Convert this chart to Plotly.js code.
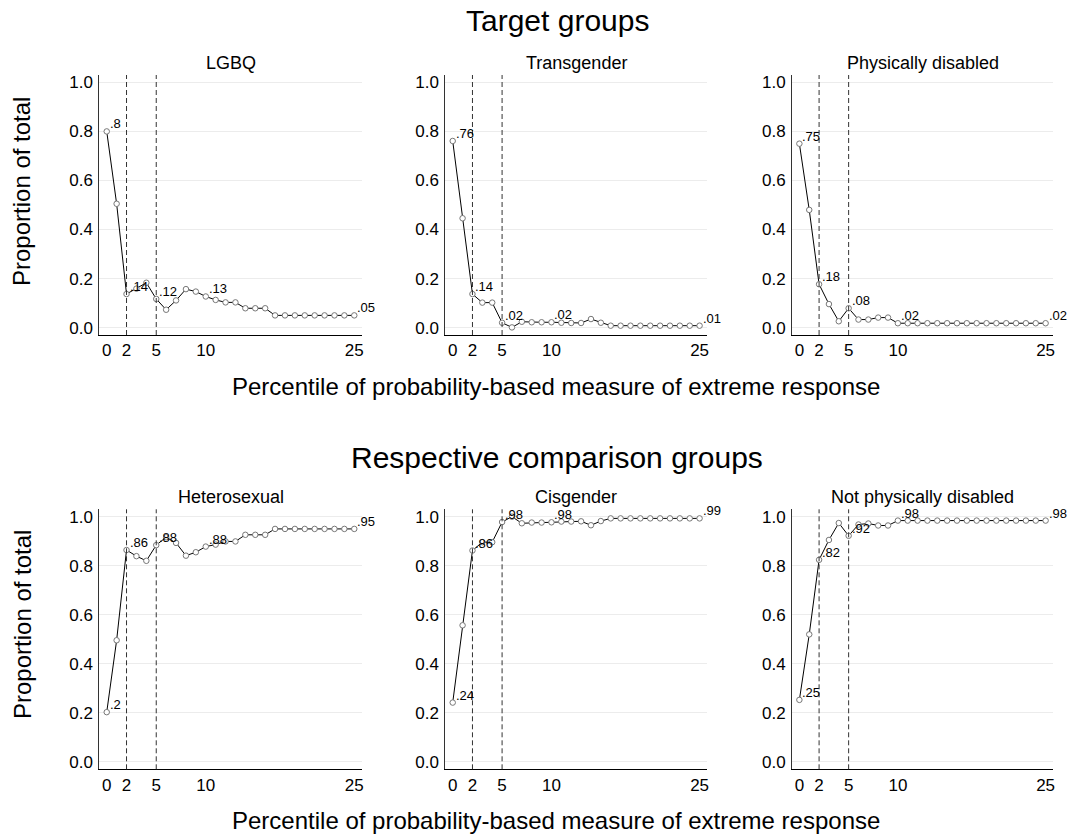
<!DOCTYPE html>
<html>
<head>
<meta charset="utf-8">
<script src="https://cdn.plot.ly/plotly-3.0.1.min.js"></script>
<style>html,body{margin:0;padding:0;background:#fff;}#chart{width:1069px;height:836px;}</style>
</head>
<body>
<div id="chart"></div>
<script>
// ---- data ----
const percentiles = [0,1,2,3,4,5,6,7,8,9,10,11,12,13,14,15,16,17,18,19,20,21,22,23,24,25];
const tickValues = [0,2,5,10,25];
const labeledPercentiles = [0,2,5,10,25];
const cutoffs = [2,5];
const panelTitles = ["LGBQ","Transgender","Physically disabled","Heterosexual","Cisgender","Not physically disabled"];
const rowTitles = ["Target groups","Respective comparison groups"];
const xAxisTitle = "Percentile of probability-based measure of extreme response";
const yAxisTitle = "Proportion of total";

const lgbq = [0.80,0.505,0.137,0.159,0.183,0.117,0.073,0.111,0.157,0.147,0.127,0.113,0.103,0.103,0.079,0.079,0.079,0.05,0.05,0.05,0.05,0.05,0.05,0.05,0.05,0.05];
const transgender = [0.761,0.446,0.137,0.102,0.102,0.02,0.001,0.024,0.022,0.022,0.022,0.02,0.019,0.019,0.035,0.02,0.008,0.008,0.008,0.008,0.008,0.008,0.008,0.008,0.008,0.008];
const physDisabled = [0.75,0.48,0.177,0.096,0.026,0.079,0.033,0.033,0.041,0.041,0.018,0.018,0.018,0.018,0.018,0.018,0.018,0.018,0.018,0.018,0.018,0.018,0.018,0.018,0.018,0.018];
const heterosexual = [0.203,0.496,0.864,0.839,0.82,0.884,0.916,0.893,0.841,0.855,0.878,0.886,0.899,0.899,0.926,0.926,0.926,0.95,0.95,0.95,0.95,0.95,0.95,0.95,0.95,0.95];
const cisgender = [0.242,0.557,0.862,0.896,0.896,0.978,1.0,0.973,0.976,0.976,0.977,0.98,0.98,0.981,0.965,0.982,0.993,0.993,0.993,0.993,0.993,0.993,0.993,0.993,0.993,0.993];
const notPhysDisabled = [0.253,0.52,0.824,0.905,0.974,0.922,0.968,0.972,0.964,0.964,0.984,0.984,0.984,0.984,0.984,0.984,0.984,0.984,0.984,0.984,0.984,0.984,0.984,0.984,0.984,0.984];

const series = [lgbq, transgender, physDisabled, heterosexual, cisgender, notPhysDisabled];

// ---- layout geometry (pixels) ----
const W = 1069, H = 836;
const FONT = '"Liberation Sans", Arial, Helvetica, sans-serif';
const colPx = [[99.3,361.7],[445.3,707],[792,1053]];
const rowPx = [[75,335],[509.3,769.3]];
const px2x = p => p / W;
const px2y = p => 1 - p / H;

function fmtLabel(v){
  const r = Math.round(v*100)/100;
  return String(r).replace(/^0(?=\.)/,'');
}

const traces = [];
const layout = {
  width: W, height: H,
  margin: {l:0,r:0,t:0,b:0},
  paper_bgcolor: '#fff', plot_bgcolor: '#fff',
  showlegend: false,
  font: {family: FONT, color: '#000'},
  shapes: [], annotations: []
};

series.forEach((vals, i) => {
  const row = Math.floor(i/3), col = i % 3;
  const n = i + 1;
  const xa = n === 1 ? 'x' : 'x' + n;
  const ya = n === 1 ? 'y' : 'y' + n;
  const xKey = n === 1 ? 'xaxis' : 'xaxis' + n;
  const yKey = n === 1 ? 'yaxis' : 'yaxis' + n;

  layout[xKey] = {
    domain: [px2x(colPx[col][0]), px2x(colPx[col][1])],
    anchor: ya,
    range: [-0.75, 25.75],
    tickvals: tickValues,
    ticks: '', showgrid: false, zeroline: false,
    showline: true, linecolor: '#000', linewidth: 1,
    tickfont: {size: 17, family: FONT, color: '#000'},
    ticklabelstandoff: 0,
    fixedrange: true
  };
  layout[yKey] = {
    domain: [px2y(rowPx[row][1]), px2y(rowPx[row][0])],
    anchor: xa,
    range: [-0.03, 1.03],
    tickvals: [0,0.2,0.4,0.6,0.8,1.0],
    tickformat: '.1f',
    ticks: '', showgrid: true, gridcolor: '#ececec', gridwidth: 1, zeroline: false,
    showline: true, linecolor: '#333', linewidth: 1,
    tickfont: {size: 17, family: FONT, color: '#000'},
    ticklabelstandoff: 2,
    fixedrange: true
  };

  cutoffs.forEach(c => {
    layout.shapes.push({
      type: 'line', xref: xa, yref: ya + ' domain',
      x0: c, x1: c, y0: 0, y1: 1,
      line: {color: '#333', width: 1, dash: '5px,3px'}
    });
  });

  traces.push({
    type: 'scatter', mode: 'lines+markers',
    x: percentiles, y: vals, xaxis: xa, yaxis: ya,
    line: {color: '#000', width: 1},
    marker: {symbol: 'circle', size: 5.5, color: '#fff', line: {color: '#777', width: 1}},
    hoverinfo: 'skip', cliponaxis: false
  });

  labeledPercentiles.forEach(p => {
    const idx = percentiles.indexOf(p);
    layout.annotations.push({
      xref: xa, yref: ya, x: p, y: vals[idx],
      text: fmtLabel(vals[idx]), showarrow: false,
      xanchor: 'left', yanchor: 'bottom', xshift: 1, yshift: -2,
      font: {size: 13, family: FONT, color: '#000'}
    });
  });

  // panel title
  layout.annotations.push({
    xref: 'paper', yref: 'paper',
    x: px2x((colPx[col][0] + colPx[col][1]) / 2),
    y: px2y(row === 0 ? 63 : 497),
    text: panelTitles[i], showarrow: false, xanchor: 'center', yanchor: 'middle',
    font: {size: 18, family: FONT, color: '#000'}
  });
});

// row titles, axis titles
const rowTitleY = [20, 457];
const xTitleY = [386, 820];
const yTitleY = [192, 625];
for (let r = 0; r < 2; r++) {
  layout.annotations.push({
    xref: 'paper', yref: 'paper', x: px2x(557), y: px2y(rowTitleY[r]),
    text: rowTitles[r], showarrow: false, xanchor: 'center', yanchor: 'middle',
    font: {size: 30, family: FONT, color: '#000'}
  });
  layout.annotations.push({
    xref: 'paper', yref: 'paper', x: px2x(556), y: px2y(xTitleY[r]),
    text: xAxisTitle, showarrow: false, xanchor: 'center', yanchor: 'middle',
    font: {size: 24, family: FONT, color: '#000'}
  });
  layout.annotations.push({
    xref: 'paper', yref: 'paper', x: px2x(22), y: px2y(yTitleY[r]),
    text: yAxisTitle, showarrow: false, xanchor: 'center', yanchor: 'middle', textangle: -90,
    font: {size: 24, family: FONT, color: '#000'}
  });
}

Plotly.newPlot('chart', traces, layout, {staticPlot: true, displayModeBar: false});
</script>
</body>
</html>
